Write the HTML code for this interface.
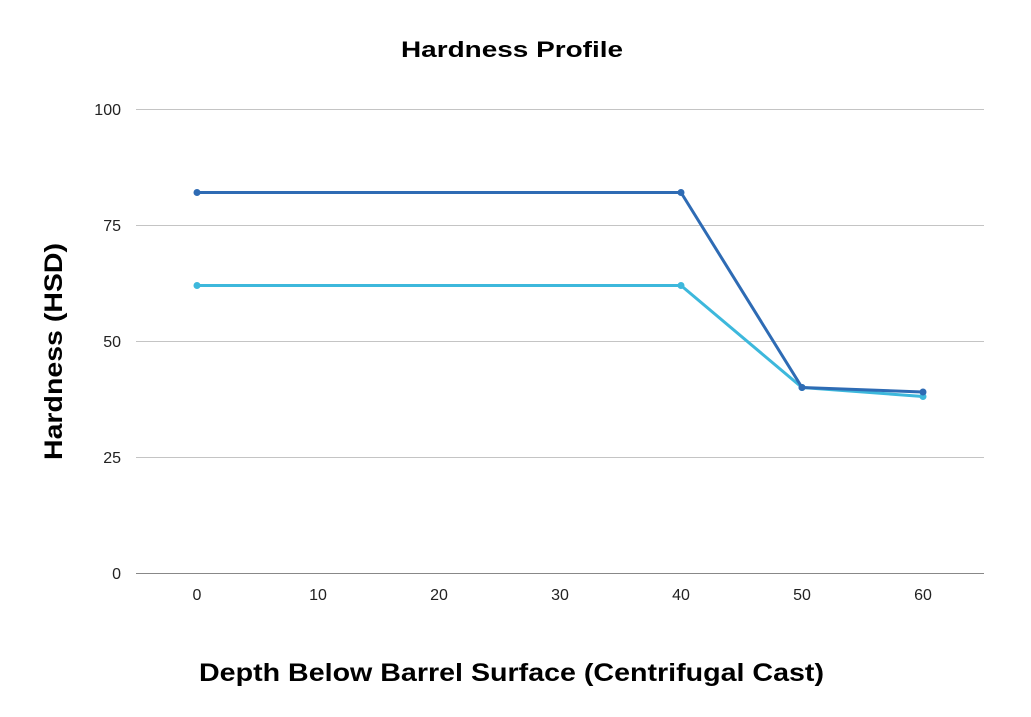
<!DOCTYPE html>
<html><head><meta charset="utf-8"><style>
html,body{margin:0;padding:0;background:#fff;}
svg{display:block;font-family:"Liberation Sans",sans-serif;}
</style></head><body>
<svg width="1031" height="717" viewBox="0 0 1031 717" xmlns="http://www.w3.org/2000/svg">
<rect width="1031" height="717" fill="#fff"/>
<text x="401" y="57" textLength="222" lengthAdjust="spacingAndGlyphs" font-size="22" font-weight="bold" fill="#000">Hardness Profile</text>
<g stroke="#c4c4c4" stroke-width="1">
<line x1="136" y1="109.5" x2="984" y2="109.5"/>
<line x1="136" y1="225.5" x2="984" y2="225.5"/>
<line x1="136" y1="341.5" x2="984" y2="341.5"/>
<line x1="136" y1="457.5" x2="984" y2="457.5"/>
</g>
<line x1="136" y1="573.5" x2="984" y2="573.5" stroke="#888" stroke-width="1"/>
<g font-size="16" fill="#222" text-anchor="end">
<text x="121" y="115">100</text>
<text x="121" y="231">75</text>
<text x="121" y="347">50</text>
<text x="121" y="463">25</text>
<text x="121" y="579">0</text>
</g>
<g font-size="16" fill="#222" text-anchor="middle">
<text x="197" y="600">0</text>
<text x="318" y="600">10</text>
<text x="439" y="600">20</text>
<text x="560" y="600">30</text>
<text x="681" y="600">40</text>
<text x="802" y="600">50</text>
<text x="923" y="600">60</text>
</g>
<text x="199" y="681" textLength="625" lengthAdjust="spacingAndGlyphs" font-size="25" font-weight="bold" fill="#000">Depth Below Barrel Surface (Centrifugal Cast)</text>
<text transform="translate(62,460) rotate(-90)" textLength="217" lengthAdjust="spacingAndGlyphs" font-size="25" font-weight="bold" fill="#000">Hardness (HSD)</text>
<polyline points="197,285.5 681,285.5 802,387.5 923,396.5" fill="none" stroke="#3db8dc" stroke-width="3" stroke-linejoin="round"/>
<g fill="#3db8dc"><circle cx="197" cy="285.5" r="3.5"/><circle cx="681" cy="285.5" r="3.5"/><circle cx="802" cy="387.5" r="3.5"/><circle cx="923" cy="396.5" r="3.5"/></g>
<polyline points="197,192.5 681,192.5 802,387.5 923,392" fill="none" stroke="#2e6bb4" stroke-width="3" stroke-linejoin="round"/>
<g fill="#2e6bb4"><circle cx="197" cy="192.5" r="3.5"/><circle cx="681" cy="192.5" r="3.5"/><circle cx="802" cy="387.5" r="3.5"/><circle cx="923" cy="392" r="3.5"/></g>
</svg>
</body></html>
